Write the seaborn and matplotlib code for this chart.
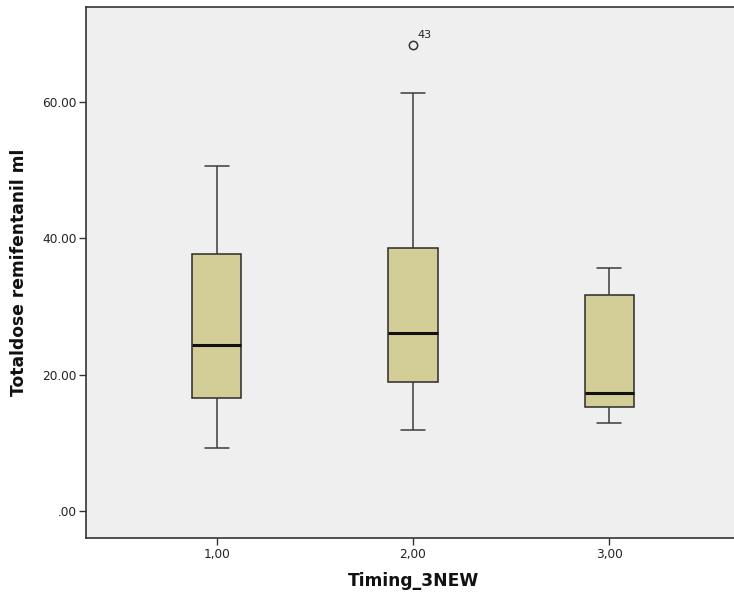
import numpy as np
import pandas as pd
import matplotlib
matplotlib.use("Agg")
import matplotlib.pyplot as plt
import seaborn as sns

# ---- values (SPSS boxplot summary) ----
categories = ["1,00", "2,00", "3,00"]
whisker_low = [9.2, 11.9, 12.9]
q1_values = [16.6, 18.9, 15.3]
median_values = [24.4, 26.1, 17.3]
q3_values = [37.7, 38.6, 31.7]
whisker_high = [50.6, 61.3, 35.6]
outlier_values = [[], [68.4], []]
outlier_labels = [[], ["43"], []]
y_ticks = [0, 20, 40, 60]
y_tick_labels = [".00", "20.00", "40.00", "60.00"]

# Build sample data whose quartiles/whiskers reproduce the summaries above
rows = []
for cat, lo, q1, med, q3, hi, outs in zip(categories, whisker_low, q1_values,
                                          median_values, q3_values,
                                          whisker_high, outlier_values):
    vals = [lo, q1, q1, med, med, q3, q3, hi] + (outs if outs else [hi])
    for v in vals:
        rows.append({"Timing_3NEW": cat, "Totaldose remifentanil ml": v})
df = pd.DataFrame(rows)

sns.set_style("white")
plt.rcParams["font.family"] = ["DejaVu Sans"]

fig = plt.figure(figsize=(7.34, 5.94), dpi=100)
ax = fig.add_axes([86 / 734, 56 / 594, 654 / 734, 531 / 594])
ax.set_facecolor("#efefef")

sns.boxplot(data=df, x="Timing_3NEW", y="Totaldose remifentanil ml",
            order=categories, color="#d3ce97", saturation=1, width=0.25,
            linecolor="#2a2a2a", linewidth=1.1, fliersize=6, ax=ax,
            whiskerprops=dict(color="#3c3c3c"),
            capprops=dict(color="#3c3c3c"),
            medianprops=dict(color="#111111", linewidth=2.2),
            flierprops=dict(marker="o", markerfacecolor="none",
                            markeredgecolor="#333333", markeredgewidth=1.1))

# outlier case labels
for i, (outs, labs) in enumerate(zip(outlier_values, outlier_labels)):
    for v, lab in zip(outs, labs):
        ax.annotate(lab, xy=(i, v), xytext=(3.5, 3), textcoords="offset points",
                    ha="left", va="bottom", fontsize=8, color="#222222")

ax.set_xlim(-0.668, 2.668)
ax.set_ylim(-3.96, 73.9)
ax.set_yticks(y_ticks)
ax.set_yticklabels(y_tick_labels)

for side in ["left", "bottom", "top"]:
    ax.spines[side].set_visible(True)
    ax.spines[side].set_color("#333333")
    ax.spines[side].set_linewidth(1.2)
ax.spines["right"].set_visible(False)

ax.tick_params(axis="both", which="major", direction="out", length=5,
               width=1, color="#333333", labelsize=8.7, labelcolor="#222222",
               pad=2)
ax.tick_params(axis="x", bottom=True)
ax.tick_params(axis="y", left=True)

ax.set_xlabel("Timing_3NEW", fontsize=12.3, fontweight="bold", labelpad=8,
              color="#111111")
ax.set_ylabel("Totaldose remifentanil ml", fontsize=12.3, fontweight="bold",
              labelpad=10, color="#111111")

fig.savefig("out.png", dpi=100)
